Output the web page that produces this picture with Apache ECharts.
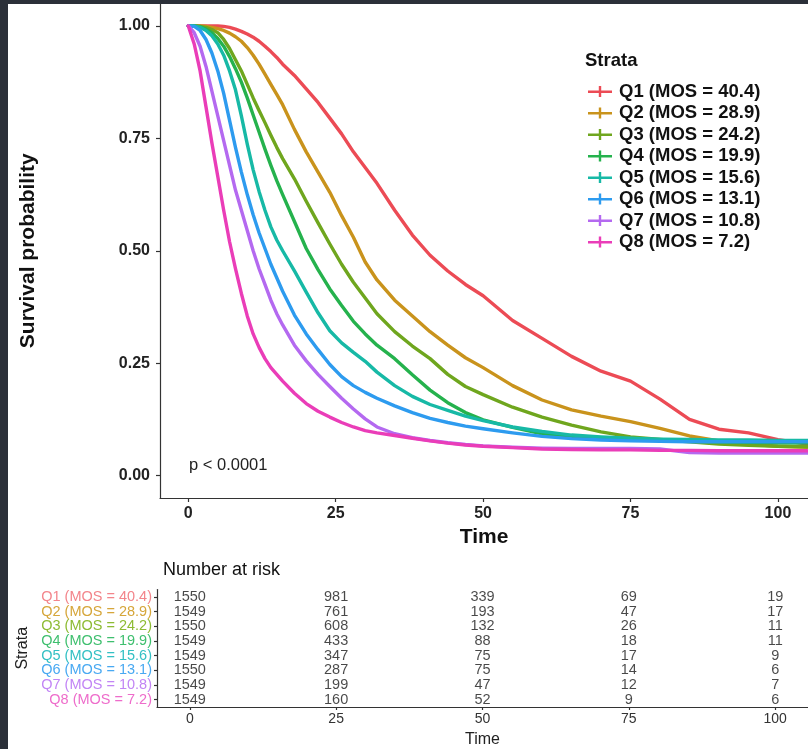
<!DOCTYPE html>
<html>
<head>
<meta charset="utf-8">
<script src="https://cdn.jsdelivr.net/npm/echarts@6/dist/echarts.min.js"></script>
<style>
html,body{margin:0;padding:0;background:#fff;}
#chart{width:808px;height:749px;}
</style>
</head>
<body>
<div id="chart"></div>
<script>
// ---------- data ----------
const strata = ['Q1 (MOS = 40.4)','Q2 (MOS = 28.9)','Q3 (MOS = 24.2)','Q4 (MOS = 19.9)',
                'Q5 (MOS = 15.6)','Q6 (MOS = 13.1)','Q7 (MOS = 10.8)','Q8 (MOS = 7.2)'];
const times = [0,1,2,3,4,5,6,7,8,9,10,11,12,13,14,15,16,18,20,22,24,26,28,30,32,35,38,41,44,47,50,55,60,65,70,75,80,85,90,95,100,105];
const survQ1 = [1,1,1,1,1,1,0.999,0.997,0.993,0.988,0.982,0.975,0.966,0.955,0.943,0.93,0.915,0.89,0.86,0.83,0.795,0.76,0.72,0.685,0.65,0.59,0.535,0.49,0.455,0.425,0.40,0.345,0.305,0.265,0.232,0.21,0.17,0.125,0.103,0.095,0.08,0.07];
const survQ2 = [1,1,1,0.999,0.997,0.994,0.99,0.984,0.976,0.966,0.952,0.935,0.915,0.893,0.87,0.848,0.825,0.77,0.72,0.675,0.63,0.578,0.53,0.475,0.435,0.39,0.355,0.32,0.29,0.262,0.24,0.2,0.168,0.146,0.132,0.12,0.105,0.088,0.077,0.07,0.065,0.063];
const survQ3 = [1,1,0.999,0.997,0.992,0.985,0.97,0.95,0.925,0.9,0.87,0.84,0.812,0.785,0.757,0.73,0.705,0.66,0.61,0.562,0.515,0.47,0.43,0.395,0.36,0.32,0.288,0.26,0.225,0.198,0.18,0.152,0.13,0.112,0.097,0.086,0.08,0.075,0.07,0.067,0.065,0.064];
const survQ4 = [1,1,0.998,0.993,0.985,0.972,0.955,0.932,0.905,0.875,0.84,0.802,0.764,0.726,0.69,0.656,0.625,0.565,0.505,0.458,0.415,0.378,0.343,0.315,0.29,0.26,0.224,0.19,0.162,0.14,0.124,0.107,0.093,0.086,0.082,0.08,0.078,0.076,0.075,0.074,0.073,0.072];
const survQ5 = [1,1,0.997,0.99,0.978,0.96,0.935,0.9,0.858,0.8,0.737,0.68,0.632,0.59,0.553,0.524,0.5,0.455,0.408,0.362,0.322,0.295,0.274,0.254,0.23,0.2,0.176,0.158,0.145,0.132,0.122,0.108,0.098,0.09,0.086,0.083,0.081,0.08,0.079,0.079,0.078,0.078];
const survQ6 = [1,0.999,0.99,0.97,0.94,0.9,0.85,0.79,0.73,0.675,0.625,0.58,0.54,0.505,0.47,0.44,0.41,0.357,0.315,0.28,0.247,0.22,0.2,0.185,0.172,0.155,0.14,0.127,0.118,0.11,0.104,0.095,0.087,0.082,0.079,0.077,0.076,0.075,0.075,0.075,0.075,0.075];
const survQ7 = [1,0.985,0.955,0.91,0.855,0.8,0.745,0.69,0.635,0.59,0.545,0.5,0.46,0.425,0.39,0.36,0.335,0.29,0.255,0.225,0.198,0.172,0.148,0.126,0.108,0.093,0.084,0.078,0.073,0.069,0.066,0.063,0.061,0.06,0.06,0.06,0.059,0.051,0.05,0.05,0.05,0.05];
const survQ8 = [1,0.96,0.9,0.82,0.74,0.665,0.59,0.52,0.46,0.405,0.355,0.315,0.285,0.26,0.24,0.225,0.21,0.183,0.16,0.143,0.13,0.118,0.108,0.1,0.095,0.089,0.083,0.077,0.072,0.068,0.065,0.062,0.059,0.058,0.057,0.057,0.056,0.056,0.055,0.055,0.055,0.055];
const riskTimes = [0,25,50,75,100];
const riskQ1 = [1550,981,339,69,19];
const riskQ2 = [1549,761,193,47,17];
const riskQ3 = [1550,608,132,26,11];
const riskQ4 = [1549,433,88,18,11];
const riskQ5 = [1549,347,75,17,9];
const riskQ6 = [1550,287,75,14,6];
const riskQ7 = [1549,199,47,12,7];
const riskQ8 = [1549,160,52,9,6];
const xTicks = [0,25,50,75,100];
const yTicks = [0,0.25,0.5,0.75,1];
const pText = 'p < 0.0001';

// ---------- styling ----------
const curveColors = ['#EC4B55','#C9931C','#6FA61E','#25B24D','#17B9A6','#2D9BEF','#B469F0','#EA3DB8'];
const labelColors = ['#F3858B','#D6A63A','#8DBB33','#3EBF6E','#33C0C4','#48A9F2','#C285F5','#EE6CCB'];
const FONT = '"Liberation Sans", Arial, Helvetica, sans-serif';
const survAll = [survQ1,survQ2,survQ3,survQ4,survQ5,survQ6,survQ7,survQ8];
const riskAll = [riskQ1,riskQ2,riskQ3,riskQ4,riskQ5,riskQ6,riskQ7,riskQ8];

const series = survAll.map((s, i) => ({
  name: strata[i],
  type: 'line',
  xAxisIndex: 0, yAxisIndex: 0,
  data: times.map((t, k) => [t, s[k]]),
  showSymbol: false,
  smooth: false,
  lineStyle: { color: curveColors[i], width: 3.4, join: 'round', cap: 'round' },
  itemStyle: { color: curveColors[i] },
  emphasis: { disabled: true },
  z: 2 + i
}));

const riskData = [];
riskAll.forEach((r, i) => r.forEach((n, k) => riskData.push([riskTimes[k], strata[i], n])));
series.push({
  type: 'scatter',
  xAxisIndex: 1, yAxisIndex: 1,
  data: riskData,
  symbolSize: 0,
  label: { show: true, position: 'inside', formatter: p => String(p.value[2]),
           fontSize: 14.5, fontFamily: FONT, color: '#1a1a1a', lineHeight: 14 },
  emphasis: { disabled: true },
  silent: true
});

const axisLineStyle = { color: '#333', width: 1.2 };

const option = {
  backgroundColor: '#ffffff',
  animation: false,
  textStyle: { fontFamily: FONT },
  grid: [
    { left: 160, right: 0, top: 3.5, height: 494.5 },
    { left: 157, right: 0, top: 589.5, height: 117.5 }
  ],
  xAxis: [
    { gridIndex: 0, type: 'value', min: -4.8, max: 105.1,
      axisLine: { show: true, onZero: false, lineStyle: axisLineStyle },
      axisTick: { show: true, length: 4, customValues: xTicks, lineStyle: axisLineStyle },
      axisLabel: { customValues: xTicks, margin: 8, fontSize: 16, fontWeight: 'bold', color: '#222', fontFamily: FONT },
      splitLine: { show: false },
      name: 'Time', nameLocation: 'middle', nameGap: 26,
      nameTextStyle: { fontSize: 21, fontWeight: 'bold', color: '#111', fontFamily: FONT } },
    { gridIndex: 1, type: 'value', min: -5.6, max: 105.6,
      axisLine: { show: true, onZero: false, lineStyle: axisLineStyle },
      axisTick: { show: true, length: 3, customValues: xTicks, lineStyle: axisLineStyle },
      axisLabel: { customValues: xTicks, margin: 5, fontSize: 14, color: '#333', fontFamily: FONT },
      splitLine: { show: false },
      name: 'Time', nameLocation: 'middle', nameGap: 25,
      nameTextStyle: { fontSize: 16, color: '#222', fontFamily: FONT } }
  ],
  yAxis: [
    { gridIndex: 0, type: 'value', min: -0.05, max: 1.05,
      axisLine: { show: true, onZero: false, lineStyle: axisLineStyle },
      axisTick: { show: true, length: 4, customValues: yTicks, lineStyle: axisLineStyle },
      axisLabel: { customValues: yTicks, margin: 10, fontSize: 16, fontWeight: 'bold', color: '#222', fontFamily: FONT,
                   formatter: v => Number(v).toFixed(2) },
      splitLine: { show: false },
      name: 'Survival probability', nameLocation: 'middle', nameGap: 121,
      nameTextStyle: { fontSize: 21, fontWeight: 'bold', color: '#111', fontFamily: FONT } },
    { gridIndex: 1, type: 'category', data: strata, inverse: true,
      axisLine: { show: true, onZero: false, lineStyle: axisLineStyle },
      axisTick: { show: true, length: 3, alignWithLabel: true, interval: 0, lineStyle: axisLineStyle },
      axisLabel: { interval: 0, margin: 5, fontSize: 14.5, fontFamily: FONT, lineHeight: 14,
                   color: (v, idx) => labelColors[strata.indexOf(v)] },
      splitLine: { show: false },
      name: 'Strata', nameLocation: 'middle', nameGap: 125,
      nameTextStyle: { fontSize: 16, color: '#222', fontFamily: FONT } }
  ],
  legend: {
    orient: 'vertical', left: 583, top: 77,
    itemWidth: 24, itemHeight: 12, itemGap: 2.5,
    icon: 'path://M0,5L24,5L24,7.4L0,7.4Z M10.8,0.5L13.2,0.5L13.2,11.5L10.8,11.5Z',
    data: strata,
    selectedMode: false,
    textStyle: { fontSize: 18.5, fontWeight: 'bold', color: '#111', fontFamily: FONT, padding: [0,0,0,2] }
  },
  graphic: [
    { type: 'rect', shape: { x: 0, y: 0, width: 808, height: 4 }, style: { fill: '#2b3039' }, silent: true, z: 100 },
    { type: 'rect', shape: { x: 0, y: 0, width: 8, height: 749 }, style: { fill: '#2b3039' }, silent: true, z: 100 },
    { type: 'text', x: 585, y: 61, silent: true,
      style: { text: 'Strata', fontSize: 18.5, fontWeight: 'bold', fontFamily: FONT, fill: '#111', align: 'left', verticalAlign: 'middle' } },
    { type: 'text', x: 189, y: 465, silent: true,
      style: { text: pText, fontSize: 16.5, fontFamily: FONT, fill: '#222', align: 'left', verticalAlign: 'middle' } },
    { type: 'text', x: 163, y: 570, silent: true,
      style: { text: 'Number at risk', fontSize: 18, fontFamily: FONT, fill: '#111', align: 'left', verticalAlign: 'middle' } }
  ],
  series: series
};

const chart = echarts.init(document.getElementById('chart'), null, { renderer: 'canvas' });
chart.setOption(option);
</script>
</body>
</html>
